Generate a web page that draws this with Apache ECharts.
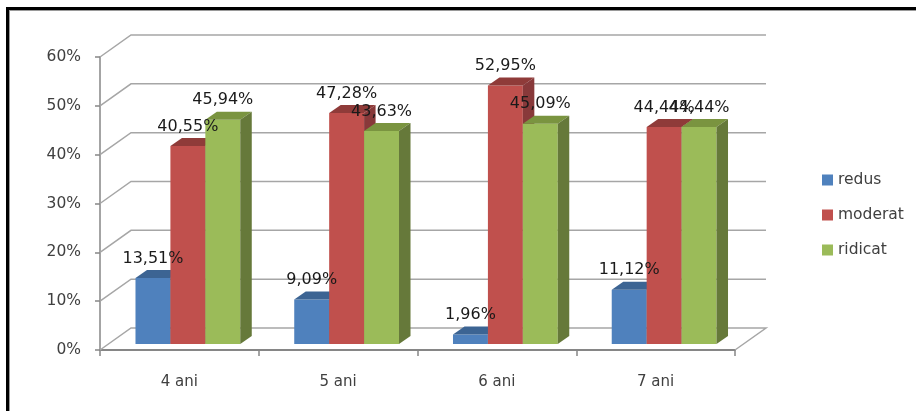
<!DOCTYPE html>
<html>
<head>
<meta charset="utf-8">
<script src="https://cdn.jsdelivr.net/npm/echarts@6/dist/echarts.min.js"></script>
<style>
    body { margin: 0; background: #fff; }
    #main { width: 916px; height: 411px; }
</style>
</head>
<body>
<div id="main"></div>
<script>
// date
var categories = ['4 ani', '5 ani', '6 ani', '7 ani'];
var seriesNames = ['redus', 'moderat', 'ridicat'];
var redus = [13.51, 9.09, 1.96, 11.12];
var moderat = [40.55, 47.28, 52.95, 44.44];
var ridicat = [45.94, 43.63, 45.09, 44.44];
var yTicks = [0, 10, 20, 30, 40, 50, 60];

// culori: fata, sus, lateral
var faceColors = [
    ['#4F81BD', '#3C6493', '#3A5F8B'],
    ['#C0504D', '#8F3B39', '#88393A'],
    ['#9BBB59', '#7A9440', '#66793A']
];

// deplasari pentru efectul 3D (px)
var wallDx = 31, wallDy = -22;
var barShiftX = 8.5, barShiftY = -6;
var barDepthX = 11.5, barDepthY = -8;
var barWidthRatio = 0.22;
var gridColor = '#a6a6a6';
var axisColor = '#868686';
var font = 'DejaVu Sans';

function fmt(v) {
    return v.toFixed(2).replace('.', ',') + '%';
}

function barGeom(api, seriesIdx) {
    var idx = api.value(0), val = api.value(1);
    var band = api.size([1, 0])[0];
    var w = band * barWidthRatio;
    var c = api.coord([idx, val]);
    var b = api.coord([idx, 0]);
    var x0 = c[0] + (seriesIdx - 1) * w - w / 2 + barShiftX;
    return { x0: x0, x1: x0 + w, yt: c[1] + barShiftY, yb: b[1] + barShiftY, val: val };
}

function barRenderer(seriesIdx) {
    var col = faceColors[seriesIdx];
    return function (params, api) {
        var g = barGeom(api, seriesIdx);
        return {
            type: 'group',
            children: [{
                type: 'polygon',
                shape: { points: [[g.x0, g.yt], [g.x1, g.yt], [g.x1, g.yb], [g.x0, g.yb]] },
                style: { fill: col[0] }
            }, {
                type: 'polygon',
                shape: { points: [[g.x0, g.yt], [g.x0 + barDepthX, g.yt + barDepthY],
                    [g.x1 + barDepthX, g.yt + barDepthY], [g.x1, g.yt]] },
                style: { fill: col[1] }
            }, {
                type: 'polygon',
                shape: { points: [[g.x1, g.yt], [g.x1 + barDepthX, g.yt + barDepthY],
                    [g.x1 + barDepthX, g.yb + barDepthY], [g.x1, g.yb]] },
                style: { fill: col[2] }
            }]
        };
    };
}

function wallRenderer(params, api) {
    var cs = params.coordSys;
    var v = api.value(1);
    var y = api.coord([0, v])[1];
    var x0 = cs.x, x1 = cs.x + cs.width;
    var pts = [[x0, y], [x0 + wallDx, y + wallDy], [x1 + wallDx, y + wallDy]];
    if (v === 0) {
        pts.push([x1, y]);
    }
    return {
        type: 'polyline',
        shape: { points: pts },
        style: { stroke: gridColor, lineWidth: 1.5, fill: null }
    };
}

var allValues = [redus, moderat, ridicat];
var labelData = [];
allValues.forEach(function (arr, s) {
    arr.forEach(function (v, i) { labelData.push([i, v, s]); });
});

function labelRenderer(params, api) {
    var s = api.value(2);
    var g = barGeom(api, s);
    return {
        type: 'text',
        style: {
            x: (g.x0 + g.x1) / 2,
            y: g.yt - 19.5,
            text: fmt(g.val),
            fill: '#1a1a1a',
            font: '16px "' + font + '"',
            align: 'center',
            verticalAlign: 'middle'
        }
    };
}

var chart = echarts.init(document.getElementById('main'));

var series = [{
    type: 'custom',
    name: 'walls',
    z: 1,
    silent: true,
    clip: false,
    renderItem: wallRenderer,
    data: yTicks.map(function (v) { return [0, v]; })
}];

seriesNames.forEach(function (name, s) {
    series.push({
        type: 'custom',
        name: name,
        z: 2,
        clip: false,
        itemStyle: { color: faceColors[s][0] },
        renderItem: barRenderer(s),
        encode: { x: 0, y: 1 },
        data: allValues[s].map(function (v, i) { return [i, v]; })
    });
});

series.push({
    type: 'custom',
    name: 'labels',
    z: 5,
    silent: true,
    clip: false,
    renderItem: labelRenderer,
    encode: { x: 0, y: 1 },
    data: labelData
});

var option = {
    animation: false,
    backgroundColor: '#fff',
    grid: { left: 100, right: 181, top: 57, bottom: 61, outerBoundsMode: 'none' },
    xAxis: {
        type: 'category',
        data: categories,
        boundaryGap: true,
        axisLine: { lineStyle: { color: axisColor, width: 2 } },
        axisTick: { show: true, alignWithLabel: false, length: 6, lineStyle: { color: axisColor, width: 1.5 } },
        axisLabel: { margin: 25, color: '#404040', fontSize: 15, fontFamily: font },
        splitLine: { show: false }
    },
    yAxis: {
        type: 'value',
        min: 0,
        max: 60,
        interval: 10,
        axisLine: { show: true, lineStyle: { color: axisColor, width: 1.5 } },
        axisTick: { show: true, length: 5, lineStyle: { color: axisColor, width: 1.5 } },
        axisLabel: { margin: 19, color: '#404040', fontSize: 15.5, fontFamily: font, formatter: '{value}%' },
        splitLine: { show: false }
    },
    legend: {
        data: seriesNames,
        orient: 'vertical',
        left: 817,
        top: 167,
        icon: 'rect',
        itemWidth: 11,
        itemHeight: 11,
        itemGap: 19,
        textStyle: { color: '#404040', fontSize: 15.5, fontFamily: font, lineHeight: 15 }
    },
    graphic: [
        { type: 'rect', shape: { x: 6, y: 7, width: 912, height: 3 }, style: { fill: '#000' } },
        { type: 'rect', shape: { x: 6, y: 7, width: 3, height: 410 }, style: { fill: '#000' } },
        { type: 'rect', shape: { x: 9, y: 10, width: 910, height: 1 }, style: { fill: '#9a9a9a' } },
        { type: 'rect', shape: { x: 9, y: 10, width: 1, height: 410 }, style: { fill: '#9a9a9a' } }
    ],
    series: series
};

if (option && typeof option === 'object') {
    chart.setOption(option, true);
}
</script>
</body>
</html>
